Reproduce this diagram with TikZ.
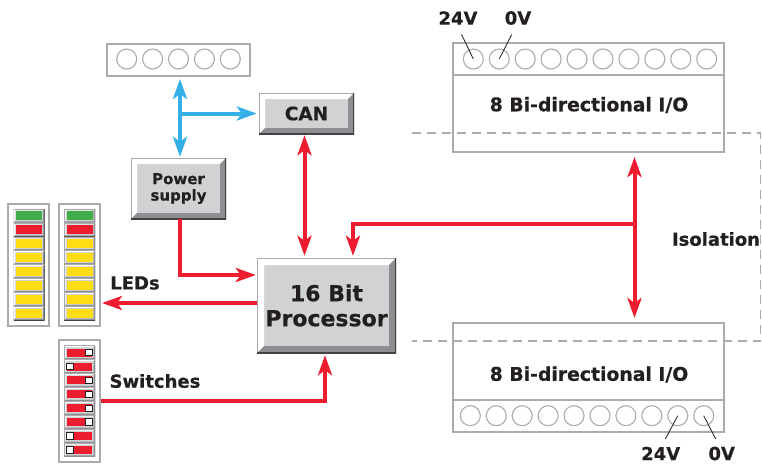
\documentclass[tikz,border=0pt]{standalone}
\usepackage{fontspec}
\setmainfont{DejaVu Sans}[BoldFeatures={FakeBold=0.5}]
\usepackage{xcolor}
\usetikzlibrary{arrows.meta}
\definecolor{linered}{HTML}{ED1C2E}
\definecolor{lineblue}{HTML}{35B0E6}
\definecolor{framegray}{HTML}{ABABAE}
\definecolor{bevelgray}{HTML}{D1D2D4}
\definecolor{shadegray}{HTML}{8E8F92}
\definecolor{ledgreen}{HTML}{3FAE49}
\definecolor{ledyellow}{HTML}{FFDD15}
\definecolor{textblack}{HTML}{231F20}
% draws the raised edge inside the node's own rectangle
\newcommand{\bevelpath}[1]{%
  \coordinate (bl) at (path picture bounding box.south west);
  \coordinate (tr) at (path picture bounding box.north east);
  \coordinate (il) at ([shift={(#1pt,#1pt)}]bl);
  \coordinate (ir) at ([shift={(-#1pt,-#1pt)}]tr);
  \fill[white] (bl) -- (bl |- tr) -- (tr) -- (ir) -- (il |- ir) -- (il) -- cycle;
  \fill[shadegray] (bl) -- (bl -| tr) -- (tr) -- (ir) -- (ir |- il) -- (il) -- cycle;
  \draw[line width={#1*0.3pt},framegray] (bl) -- (bl |- tr) -- (tr);
  \draw[line width={#1*0.4pt},textblack!85] (bl) -- (bl -| tr) -- (tr);
}
\tikzset{
  bevelbox/.style={rectangle, inner sep=0pt, fill=bevelgray, align=center,
    font=\bfseries, text=textblack, path picture={\bevelpath{#1}}},
  cellbox/.style={bevelbox=1.5, minimum width=31pt, minimum height=13.9pt},
  panel/.style={rectangle, draw=framegray, line width=2pt, fill=white, inner sep=0pt},
  terminal/.style={circle, draw=framegray, line width=1.1pt, minimum size=20pt, inner sep=0pt},
  lamp/.style={rectangle, minimum width=26pt, minimum height=9pt, inner sep=0pt},
  slider/.style={rectangle, draw=textblack, line width=0.9pt, fill=white, minimum size=6.5pt, inner sep=0pt},
  swbar/.style={rectangle, fill=linered, minimum width=25pt, minimum height=8pt, inner sep=0pt},
  redline/.style={draw=linered, line width=4pt, >={Stealth[length=20pt,width=14pt,inset=5pt]}},
  blueline/.style={draw=lineblue, line width=4pt, >={Stealth[length=20pt,width=14pt,inset=5pt]}},
  caption/.style={font=\fontsize{18}{20}\selectfont\bfseries, text=textblack, inner sep=0pt},
  iotext/.style={font=\fontsize{18.8}{21}\selectfont\bfseries, text=textblack, inner sep=0pt},
  pointer/.style={draw=textblack, line width=0.8pt},
  isoline/.style={draw=framegray, line width=1.4pt, dash pattern=on 9pt off 6pt},
}
\begin{document}
\begin{tikzpicture}[x=1pt,y=-1pt]
\useasboundingbox (0,0) rectangle (762,464);

% top connector
\node[panel, minimum width=143pt, minimum height=32pt] (strip) at (178,59.5) {};
\foreach \i/\xpos in {1/126.7,2/152.6,3/178.5,4/204.4,5/230.3}
  \node[terminal] (strip\i) at (\xpos,59) {};

% bevelled boxes
\node[bevelbox=6, minimum width=95pt, minimum height=41pt, font=\fontsize{18.5}{20}\selectfont\bfseries] (can) at (306.5,113.5) {CAN};
\node[bevelbox=6, minimum width=95pt, minimum height=61pt, font=\fontsize{15}{16.5}\selectfont\bfseries] (power) at (178.5,188.5) {Power\\supply};
\node[bevelbox=7, minimum width=139pt, minimum height=95pt, font=\fontsize{22}{25}\selectfont\bfseries] (cpu) at (326.5,305.5) {16 Bit\\Processor};

% LED columns
\node[panel, minimum width=41pt, minimum height=122pt] (ledsa) at (28.5,265) {};
\node[panel, minimum width=41pt, minimum height=122pt] (ledsb) at (79,265) {};
\foreach \xpos/\col in {29/a,79.5/b}
  \foreach \i/\lampcol in {1/ledgreen,2/linered,3/ledyellow,4/ledyellow,5/ledyellow,6/ledyellow,7/ledyellow,8/ledyellow} {
    \node[cellbox] (led\col\i) at (\xpos,{202+\i*13.9}) {};
    \node[lamp, fill=\lampcol] (lamp\col\i) at (led\col\i) {};
  }

% switch column
\node[panel, minimum width=41pt, minimum height=122pt] (switches) at (79,401) {};
\foreach \i/\off in {1/9.5,2/-9.5,3/9.5,4/9.5,5/9.5,6/9.5,7/-9.5,8/-9.5} {
  \node[cellbox] (sw\i) at (79.5,{345.7+(\i-0.5)*13.9}) {};
  \node[swbar] (bar\i) at (sw\i) {};
  \node[slider] (knob\i) at ([xshift=\off pt]sw\i) {};
}

% I/O blocks
\node[panel, minimum width=271pt, minimum height=109pt] (iotop) at (588.5,97.5) {};
\node[panel, minimum width=271pt, minimum height=109pt] (iobot) at (588.5,377.5) {};
\coordinate (dtl) at (iotop.west |- 0,75);
\coordinate (dtr) at (iotop.east |- 0,75);
\coordinate (dbl) at (iobot.west |- 0,400);
\coordinate (dbr) at (iobot.east |- 0,400);
\draw[draw=framegray, line width=1.6pt] (dtl) -- (dtr);
\draw[draw=framegray, line width=1.6pt] (dbl) -- (dbr);
\foreach \i in {1,...,10} {
  \node[terminal] (t\i) at ({447.4+\i*25.93},59) {};
  \node[terminal] (b\i) at ({444.4+\i*25.93},415.7) {};
}
\node[iotext] (iotoplabel) at (589,105) {8 Bi-directional I/O};
\node[iotext] (iobotlabel) at (589,374.5) {8 Bi-directional I/O};

% isolation barrier
\draw[isoline] (412,133) -- (760.5,133) -- (760.5,341) -- (412,341);

% voltage labels
\node[caption] (v24top) at (458,18) {24V};
\node[caption] (v0top) at (518,18) {0V};
\node[caption] (v24bot) at (660.7,453.5) {24V};
\node[caption] (v0bot) at (721.7,453.5) {0V};
\draw[pointer] (v24top.south) ++(3.5,9.5) -- (t1.center);
\draw[pointer] (v0top.south) ++(-6.3,9.5) -- (t2.center);
\draw[pointer] (v24bot.north) ++(4.6,-7.5) -- (b9.center);
\draw[pointer] (v0bot.north) ++(-6,-7.5) -- (b10.center);

% captions
\node[caption] (ledcap) at (135,283) {LEDs};
\node[caption] (swcap) at (155,381) {Switches};
\node[caption] (isocap) at (716,239) {Isolation};

% blue connectors
\coordinate (bluejoin) at (180,113.5);
\draw[blueline, <->] ([xshift=2pt,yshift=-2.5pt]strip.south) -- ([xshift=1.5pt,yshift=1pt]power.north);
\draw[blueline, ->] (bluejoin) -- ([xshift=-2pt]can.west);

% red connectors
\coordinate (busjoin) at (635,224);
\coordinate (ledtip) at (102,303);
\draw[redline, <->] ([xshift=-2pt,yshift=-1pt]can.south) -- ([xshift=-22pt,yshift=2pt]cpu.north);
\draw[redline, <->] ([xshift=46pt,yshift=-4pt]iotop.south) -- ([xshift=46pt,yshift=4pt]iobot.north);
\draw[redline, ->] (busjoin) -| ([xshift=26.5pt,yshift=2pt]cpu.north);
\draw[redline, ->] ([xshift=1.5pt]power.south) |- ([yshift=30.5pt,xshift=-1pt]cpu.west);
\draw[redline, ->] ([yshift=2.5pt]cpu.west) -- (ledtip);
\draw[redline, ->] (switches.east |- 0,401) -| ([xshift=-1.5pt,yshift=-2pt]cpu.south);
\end{tikzpicture}
\end{document}
